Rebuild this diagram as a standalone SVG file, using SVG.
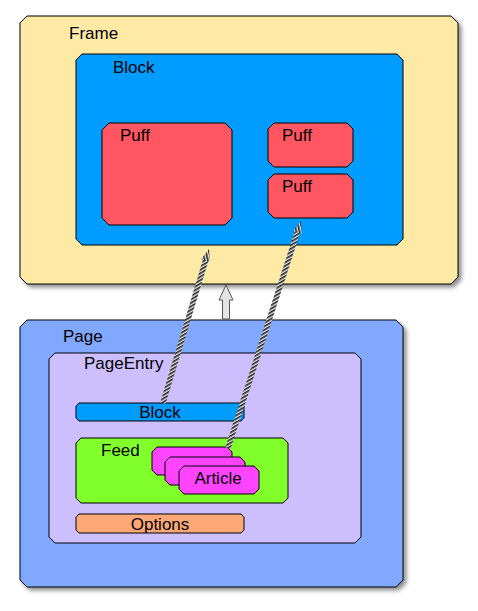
<svg xmlns="http://www.w3.org/2000/svg" width="478" height="611" viewBox="0 0 478 611">
<style>
.s{stroke:#000;stroke-width:1;stroke-linejoin:miter}
text{font-family:"Liberation Sans",Arial,sans-serif;font-size:17px;fill:#000}
.c{text-anchor:middle}
.frame{fill:#FEEAA5}
.blk{fill:#009CFF}
.puff{fill:#FF5661}
.page{fill:#80A8FF}
.pe{fill:#CDBEFE}
.feed{fill:#80FF2A}
.art{fill:#FF44FF}
.opt{fill:#FFA877}
.hl{fill:none;stroke:url(#hatch);stroke-width:5.5;marker-end:url(#hh)}
</style>
<defs>
<filter id="sh" x="-5%" y="-5%" width="115%" height="115%">
<feDropShadow dx="3" dy="3" stdDeviation="2" flood-color="#000" flood-opacity="0.45"/>
</filter>
<pattern id="hatch" patternUnits="userSpaceOnUse" width="3" height="3" patternTransform="rotate(-30)">
<rect width="3" height="3" fill="#e8e8e8"/>
<rect width="3" height="1.6" fill="#222"/>
</pattern>
<marker id="hh" markerUnits="userSpaceOnUse" viewBox="-3 -5 14 10" refX="0" refY="0" markerWidth="14" markerHeight="10" orient="auto" overflow="visible">
<polygon points="-3,-4.5 9,0 -3,4.5" fill="url(#hatch)"/>
</marker>
</defs>
<g id="frame">
<polygon class="s frame" filter="url(#sh)" points="27,16 451,16 458,23 458,277 451,284 27,284 20,277 20,23"/>
<text x="69" y="39">Frame</text>
</g>
<g id="block">
<polygon class="s blk" points="82,54 397,54 403,60 403,239 397,245 82,245 76,239 76,60"/>
<text x="113" y="73">Block</text>
</g>
<g id="puff1">
<polygon class="s puff" points="109,123 225,123 232,130 232,218 225,225 109,225 102,218 102,130"/>
<text x="120" y="141">Puff</text>
</g>
<g id="puff2">
<polygon class="s puff" points="274,123 347,123 353,129 353,161 347,167 274,167 268,161 268,129"/>
<text x="282" y="141">Puff</text>
</g>
<g id="puff3">
<polygon class="s puff" points="274,174 347,174 353,180 353,212 347,218 274,218 268,212 268,180"/>
<text x="282" y="192">Puff</text>
</g>
<g id="page">
<polygon class="s page" filter="url(#sh)" points="27,320 396,320 403,327 403,580 396,587 27,587 20,580 20,327"/>
<text x="63" y="342">Page</text>
</g>
<g id="pageentry">
<polygon class="s pe" points="55,353 355,353 361,359 361,537 355,543 55,543 49,537 49,359"/>
<text x="84" y="369">PageEntry</text>
</g>
<g id="blockbar">
<polygon class="s blk" points="79,403 241,403 244,406 244,418 241,421 79,421 76,418 76,406"/>
<text class="c" x="160" y="418">Block</text>
</g>
<g id="feed">
<polygon class="s feed" points="81,438 283,438 288,443 288,498 283,503 81,503 76,498 76,443"/>
<text x="101" y="456">Feed</text>
</g>
<g id="article1">
<polygon class="s art" points="157,447 227,447 232,452 232,470 227,475 157,475 152,470 152,452"/>
</g>
<g id="article2">
<polygon class="s art" points="170,457 240,457 245,462 245,480 240,485 170,485 165,480 165,462"/>
</g>
<g id="article3">
<polygon class="s art" points="184,466 254,466 259,471 259,489 254,494 184,494 179,489 179,471"/>
<text class="c" x="218" y="484">Article</text>
</g>
<g id="options">
<polygon class="s opt" points="79,514 241,514 244,517 244,530 241,533 79,533 76,530 76,517"/>
<text class="c" x="160" y="530">Options</text>
</g>
<g id="connectors">
<path class="hl" d="M163,403 L206.4,257.6"/>
<path class="hl" d="M228,448 L298.2,229.6"/>
<polygon points="226,285 233,300 229.5,300 229.5,319 222.5,319 222.5,300 219,300" fill="#e4e4e4" stroke="#555" stroke-width="1"/>
</g>
</svg>
